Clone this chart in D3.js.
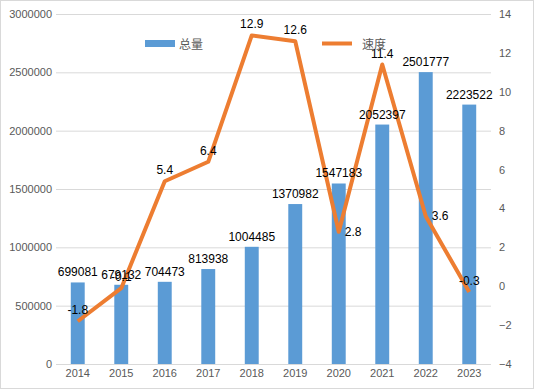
<!DOCTYPE html>
<html>
<head>
<meta charset="utf-8">
<script src="https://cdn.jsdelivr.net/npm/d3@7"></script>
<style>
  body { margin: 0; background: #fff; }
  text { font-family: "Liberation Sans", "Noto Sans CJK SC", sans-serif; }
</style>
</head>
<body>
<div id="chart"></div>
<script>
const years = ['2014', '2015', '2016', '2017', '2018', '2019', '2020', '2021', '2022', '2023'];
const totals = [699081, 679132, 704473, 813938, 1004485, 1370982, 1547183, 2052397, 2501777, 2223522];
const speeds = [-1.8, -0.1, 5.4, 6.4, 12.9, 12.6, 2.8, 11.4, 3.6, -0.3];
const speedLabelPos = ['above', 'above', 'above', 'above', 'above', 'above', 'right', 'above', 'right', 'above'];
const leftTicks = [0, 500000, 1000000, 1500000, 2000000, 2500000, 3000000];
const rightTicks = [-4, -2, 0, 2, 4, 6, 8, 10, 12, 14];

const W = 534, H = 389;
const m = { left: 56, right: 43, top: 14, bottom: 25 };
const blue = '#5B9BD5', orange = '#ED7D31';

const svg = d3.select('#chart').append('svg').attr('width', W).attr('height', H);
svg.append('rect').attr('x', 0.5).attr('y', 0.5).attr('width', W - 1).attr('height', H - 1)
  .attr('fill', '#fff').attr('stroke', '#d9d9d9');

const x = d3.scaleBand().domain(years).range([m.left, W - m.right]).paddingInner(0.68).paddingOuter(0.34);
const y = d3.scaleLinear().domain([0, 3000000]).range([H - m.bottom, m.top]);
const y2 = d3.scaleLinear().domain([-4, 14]).range([H - m.bottom, m.top]);

// grid
svg.append('g').selectAll('line').data(leftTicks.slice(1)).enter().append('line')
  .attr('x1', m.left).attr('x2', W - m.right)
  .attr('y1', d => y(d) + 0.5).attr('y2', d => y(d) + 0.5)
  .attr('stroke', '#d9d9d9');

// axes
const axL = svg.append('g').attr('transform', `translate(${m.left - 4},0)`)
  .call(d3.axisLeft(y).tickValues(leftTicks).tickSize(0).tickPadding(0).tickFormat(d3.format('d')));
const axR = svg.append('g').attr('transform', `translate(${W - m.right + 8},0)`)
  .call(d3.axisRight(y2).tickValues(rightTicks).tickSize(0).tickPadding(0));
const axB = svg.append('g').attr('transform', `translate(0,${H - m.bottom})`)
  .call(d3.axisBottom(x).tickSize(0).tickPadding(5));
[axL, axR, axB].forEach(a => {
  a.select('.domain').remove();
  a.selectAll('text').attr('fill', '#595959').style('font-size', '11px');
});
svg.append('line').attr('x1', m.left).attr('x2', W - m.right)
  .attr('y1', y(0) + 0.5).attr('y2', y(0) + 0.5).attr('stroke', '#d9d9d9');

// bars
svg.append('g').selectAll('rect').data(totals).enter().append('rect')
  .attr('x', (d, i) => x(years[i])).attr('width', x.bandwidth())
  .attr('y', d => y(d)).attr('height', d => y(0) - y(d)).attr('fill', blue);

// line
const line = d3.line().x((d, i) => x(years[i]) + x.bandwidth() / 2).y(d => y2(d));
svg.append('path').datum(speeds).attr('d', line).attr('fill', 'none')
  .attr('stroke', orange).attr('stroke-width', 4).attr('stroke-linejoin', 'round');

// bar labels
svg.append('g').selectAll('text').data(totals).enter().append('text')
  .attr('x', (d, i) => x(years[i]) + x.bandwidth() / 2).attr('y', d => y(d) - 6)
  .attr('text-anchor', 'middle').style('font-size', '12px').attr('fill', '#000')
  .text(d => d);

// line labels
svg.append('g').selectAll('text').data(speeds).enter().append('text')
  .attr('x', (d, i) => x(years[i]) + x.bandwidth() / 2 + (speedLabelPos[i] === 'right' ? 6 : 0))
  .attr('y', (d, i) => y2(d) + (speedLabelPos[i] === 'right' ? 4 : -7))
  .attr('text-anchor', (d, i) => speedLabelPos[i] === 'right' ? 'start' : 'middle')
  .style('font-size', '12px').attr('fill', '#000')
  .text(d => d);

// legend
const lg = svg.append('g');
lg.append('rect').attr('x', 145).attr('y', 40).attr('width', 30).attr('height', 7).attr('fill', blue);
lg.append('text').attr('x', 179).attr('y', 49).style('font-size', '12px').attr('fill', '#595959').text('总量');
lg.append('line').attr('x1', 322).attr('x2', 352).attr('y1', 43.5).attr('y2', 43.5)
  .attr('stroke', orange).attr('stroke-width', 4);
lg.append('text').attr('x', 362).attr('y', 49).style('font-size', '12px').attr('fill', '#595959').text('速度');
</script>
</body>
</html>
